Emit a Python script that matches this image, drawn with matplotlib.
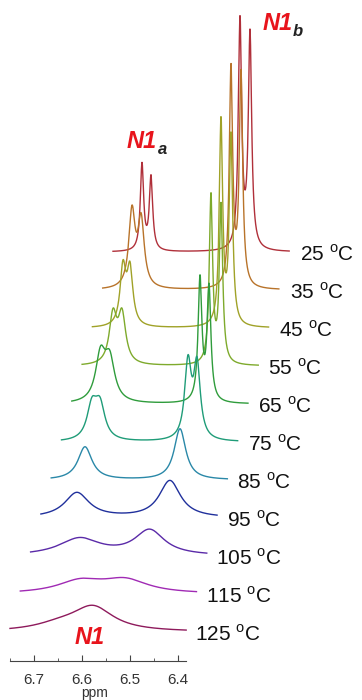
import numpy as np
import matplotlib
matplotlib.use("Agg")
import matplotlib.pyplot as plt

plt.rcParams['font.family'] = ['Liberation Sans', 'DejaVu Sans']

# spectra from top (25 C) to bottom (125 C)
temps = [25, 35, 45, 55, 65, 75, 85, 95, 105, 115, 125]
colors = ['#b0303a', '#b8732a', '#a0a228', '#7eaa2c', '#2f9c3c', '#1f9c78',
          '#2a88a8', '#20309c', '#5a2aa8', '#a02ab4', '#8e1a5c']

# peaks: centre (ppm), height, half width (ppm)
peak_pos = [
    [6.6896, 6.6708, 6.4854, 6.4646],
    [6.6890, 6.6700, 6.4827, 6.4619],
    [6.6863, 6.6717, 6.4821, 6.4613],
    [6.6856, 6.6669, 6.4815, 6.4606],
    [6.6900, 6.6710, 6.4829, 6.4642],
    [6.6865, 6.6698, 6.4865, 6.4677],
    [6.6796, 6.4817],
    [6.6750, 6.4813],
    [6.6479, 6.5021],
    [6.6250, 6.5313],
    [6.6458, 6.5771],
]
peak_height = [
    [86, 73, 228, 214],
    [75, 66, 218, 212],
    [57, 55, 204, 188],
    [48, 48, 167, 157],
    [46, 40, 122, 113],
    [33, 33, 75, 73],
    [33, 51],
    [25, 37],
    [17, 25],
    [12, 13],
    [6, 24],
]
peak_width = [
    [0.0042, 0.0042, 0.0042, 0.0042],
    [0.0079, 0.0079, 0.0042, 0.0042],
    [0.0073, 0.0073, 0.0042, 0.0042],
    [0.0094, 0.0094, 0.0042, 0.0042],
    [0.0125, 0.0125, 0.0048, 0.0048],
    [0.0125, 0.0125, 0.0083, 0.0083],
    [0.0177, 0.0146],
    [0.0310, 0.0270],
    [0.0520, 0.0375],
    [0.0580, 0.0580],
    [0.0625, 0.0520],
]


def spectrum(x, pos, hgt, wid):
    y = np.zeros_like(x)
    for p, h, w in zip(pos, hgt, wid):
        y += h / (1 + ((x - p) / w) ** 2)
    return y


def px_x(px):
    return 6.7 - (px - 34) / 480.0


def px_y(py):
    return 700 - py


fig = plt.figure(figsize=(3.62, 7.0), dpi=100)
ax = fig.add_axes([0, 0, 1, 1])
ax.set_xlim(px_x(0), px_x(362))
ax.set_ylim(0, 700)

ppm = np.linspace(6.383, 6.75, 900)
dx = 10.3 / 480.0
dy = 38.0

n = len(temps)
for idx in range(n):
    k = n - 1 - idx
    base = px_y(632) + k * dy
    y = base + spectrum(ppm, peak_pos[idx], peak_height[idx], peak_width[idx])
    ax.plot(ppm - k * dx, y, color=colors[idx], lw=1.0)
    ax.text(px_x(195 + 10.5 * k), base - 2, '%d $^{\\mathregular{o}}$C' % temps[idx],
            fontsize=15, ha='left', va='center', color='#111111')

# peak labels
ax.text(px_x(75), px_y(638), 'N1', color='#e8141c', fontsize=17,
        fontweight='bold', fontstyle='italic', ha='left', va='center')
ax.text(px_x(127), px_y(142), 'N1', color='#e8141c', fontsize=17,
        fontweight='bold', fontstyle='italic', ha='left', va='center')
ax.text(px_x(158), px_y(150), 'a', color='#222222', fontsize=12,
        fontweight='bold', fontstyle='italic', ha='left', va='center')
ax.text(px_x(263), px_y(23), 'N1', color='#e8141c', fontsize=17,
        fontweight='bold', fontstyle='italic', ha='left', va='center')
ax.text(px_x(293), px_y(31), 'b', color='#222222', fontsize=12,
        fontweight='bold', fontstyle='italic', ha='left', va='center')

for s in ['top', 'right', 'left']:
    ax.spines[s].set_visible(False)
ax.spines['bottom'].set_position(('data', px_y(661)))
ax.spines['bottom'].set_bounds(6.383, 6.75)
ax.spines['bottom'].set_color('#444444')
ax.set_yticks([])
ax.set_xticks([6.7, 6.6, 6.5, 6.4])
ax.set_xticklabels(['6.7', '6.6', '6.5', '6.4'])
ax.set_xticks([6.75, 6.65, 6.55, 6.45], minor=True)
ax.tick_params(axis='x', which='major', direction='in', length=4, pad=9,
               labelsize=11, colors='#444444', labelcolor='#333333')
ax.tick_params(axis='x', which='minor', direction='in', length=2.5, colors='#444444')
ax.text(px_x(95), px_y(693), 'ppm', fontsize=10, ha='center', va='center', color='#333333')

fig.savefig('out.png', dpi=100)
